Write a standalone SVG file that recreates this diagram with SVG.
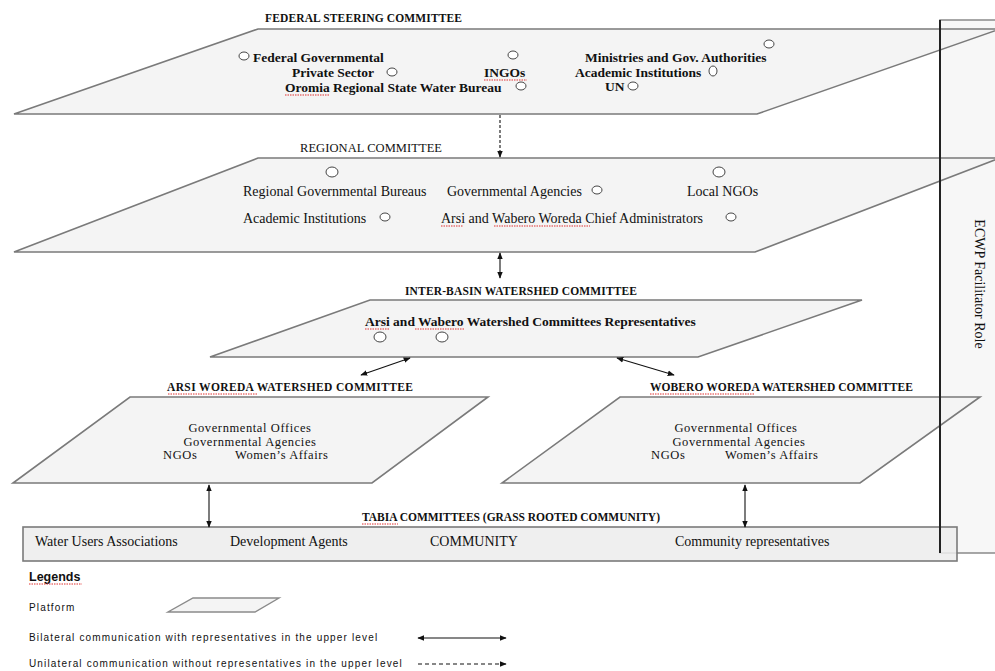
<svg xmlns="http://www.w3.org/2000/svg" width="995" height="671" viewBox="0 0 995 671">
<defs>
<marker id="ah" viewBox="0 0 10 10" refX="9" refY="5" markerWidth="7" markerHeight="7" orient="auto-start-reverse" markerUnits="userSpaceOnUse">
<path d="M0,1 L10,5 L0,9 z" fill="#111"/>
</marker>
<style>
.plat{fill:#f4f4f4;stroke:#7a7a7a;stroke-width:1.6}
.circ{fill:#fff;stroke:#444;stroke-width:1}
.t{font-family:"Liberation Serif","Times New Roman",serif;font-size:14px;fill:#111}
.b{font-weight:bold;font-size:13.5px}
.s{font-size:12.5px;letter-spacing:0.6px}
.ttl{font-family:"Liberation Serif","Times New Roman",serif;font-size:11.5px;font-weight:bold;fill:#111}
.tl{font-family:"Liberation Serif","Times New Roman",serif;font-size:12.5px;fill:#111}
.lg{font-family:"Liberation Sans",Arial,sans-serif;font-size:10px;fill:#111;letter-spacing:1.15px}
.con{stroke:#111;stroke-width:1.1;fill:none}
.sq{stroke:#e03030;stroke-width:1;fill:none;stroke-dasharray:1.5 1}
</style>
</defs>
<rect width="995" height="671" fill="#fff"/>

<g id="ecwp-box">
<rect x="940" y="20" width="62" height="533" fill="#f7f7f7" stroke="#8a8a8a" stroke-width="1.5"/>
</g>

<g id="federal">
<polygon class="plat" points="258,29 1000,29 757,114 14,114"/>
<text class="ttl" x="265" y="22" textLength="197">FEDERAL STEERING COMMITTEE</text>
<ellipse class="circ" cx="244" cy="56" rx="5" ry="4"/>
<text class="t b" x="253" y="62">Federal Governmental</text>
<text class="t b" x="292" y="77">Private Sector</text>
<ellipse class="circ" cx="392" cy="72" rx="5" ry="4"/>
<ellipse class="circ" cx="513" cy="55" rx="5" ry="4"/>
<text class="t b" x="484" y="77">INGOs</text>
<text class="t b" x="285" y="92">Oromia Regional State Water Bureau</text>
<ellipse class="circ" cx="521" cy="86" rx="5" ry="4"/>
<text class="t b" x="585" y="62">Ministries and Gov. Authorities</text>
<ellipse class="circ" cx="769" cy="44" rx="5" ry="4"/>
<text class="t b" x="575" y="77">Academic Institutions</text>
<ellipse class="circ" cx="713" cy="71" rx="4" ry="5"/>
<text class="t b" x="605" y="91">UN</text>
<ellipse class="circ" cx="633" cy="86" rx="5" ry="4"/>
</g>

<g id="regional">
<polygon class="plat" points="258,158 1000,158 755,252 14,252"/>
<text class="tl" x="300" y="152" textLength="142">REGIONAL COMMITTEE</text>
<ellipse class="circ" cx="332" cy="172" rx="6" ry="5"/>
<text class="t" x="243" y="196">Regional Governmental Bureaus</text>
<text class="t" x="447" y="196">Governmental Agencies</text>
<ellipse class="circ" cx="597" cy="190" rx="5" ry="4"/>
<ellipse class="circ" cx="719" cy="172" rx="6" ry="5"/>
<text class="t" x="687" y="196">Local NGOs</text>
<text class="t" x="243" y="223">Academic Institutions</text>
<ellipse class="circ" cx="385" cy="217" rx="5" ry="4"/>
<text class="t" x="441" y="223">Arsi and Wabero Woreda Chief Administrators</text>
<ellipse class="circ" cx="731" cy="217" rx="5" ry="4"/>
</g>

<g id="inter-basin">
<polygon class="plat" points="370,300 862,300 698,357 210,357"/>
<text class="ttl" x="405" y="295" textLength="232">INTER-BASIN WATERSHED COMMITTEE</text>
<text class="t b" x="365" y="326">Arsi and Wabero Watershed Committees Representatives</text>
<ellipse class="circ" cx="380" cy="337" rx="6" ry="5"/>
<ellipse class="circ" cx="442" cy="337" rx="6" ry="5"/>
</g>

<g id="arsi">
<polygon class="plat" points="130,397 488,397 372,483 13,483"/>
<text class="ttl" x="167" y="391" textLength="246">ARSI WOREDA WATERSHED COMMITTEE</text>
<text class="t s" x="250" y="432" text-anchor="middle">Governmental Offices</text>
<text class="t s" x="250" y="446" text-anchor="middle">Governmental Agencies</text>
<text class="t s" x="163" y="459">NGOs</text>
<text class="t s" x="235" y="459">Women’s Affairs</text>
</g>

<g id="wobero">
<polygon class="plat" points="620,397 980,397 860,483 502,483"/>
<text class="ttl" x="650" y="391" textLength="263">WOBERO WOREDA WATERSHED COMMITTEE</text>
<text class="t s" x="736" y="432" text-anchor="middle">Governmental Offices</text>
<text class="t s" x="739" y="446" text-anchor="middle">Governmental Agencies</text>
<text class="t s" x="651" y="459">NGOs</text>
<text class="t s" x="725" y="459">Women’s Affairs</text>
</g>

<g id="tabia">
<rect x="23" y="527" width="934" height="34" fill="#ececec" fill-opacity="0.85" stroke="#7a7a7a" stroke-width="1.6"/>
<text class="ttl" x="362" y="521" textLength="298">TABIA COMMITTEES (GRASS ROOTED COMMUNITY)</text>
<text class="t" x="35" y="546">Water Users Associations</text>
<text class="t" x="230" y="546">Development Agents</text>
<text class="t" x="430" y="546">COMMUNITY</text>
<text class="t" x="675" y="546">Community representatives</text>
</g>

<g id="ecwp">
<line x1="940" y1="20" x2="940" y2="553" stroke="#222" stroke-width="2"/>
<text class="t" x="0" y="0" text-anchor="middle" transform="translate(975,284) rotate(90)">ECWP Facilitator Role</text>
</g>

<g id="connectors">
<line class="con" x1="500" y1="115" x2="500" y2="157" stroke-dasharray="3 2" marker-end="url(#ah)"/>
<line class="con" x1="500" y1="253" x2="500" y2="278" marker-start="url(#ah)" marker-end="url(#ah)"/>
<line class="con" x1="410" y1="358" x2="361" y2="375" marker-start="url(#ah)" marker-end="url(#ah)"/>
<line class="con" x1="617" y1="358" x2="674" y2="375" marker-start="url(#ah)" marker-end="url(#ah)"/>
<line class="con" x1="209" y1="485" x2="209" y2="527" marker-start="url(#ah)" marker-end="url(#ah)"/>
<line class="con" x1="745" y1="485" x2="745" y2="527" marker-start="url(#ah)" marker-end="url(#ah)"/>
</g>

<g id="legend">
<text x="29" y="581" font-family="'Liberation Sans',Arial,sans-serif" font-size="12.5" font-weight="bold" fill="#111">Legends</text>
<text class="lg" x="29" y="611">Platform</text>
<polygon points="193,598 279,598 255,612 168,612" fill="#f4f4f4" stroke="#8a8a8a" stroke-width="1.4"/>
<text class="lg" x="29" y="641">Bilateral communication with representatives in the upper level</text>
<line class="con" x1="418" y1="638" x2="506" y2="638" marker-start="url(#ah)" marker-end="url(#ah)"/>
<text class="lg" x="29" y="667">Unilateral communication without representatives in the upper level</text>
<line class="con" x1="418" y1="664" x2="506" y2="664" stroke-dasharray="4 3" marker-end="url(#ah)"/>
</g>

<g id="spellcheck-marks">
<path class="sq" d="M285,95 H330"/>
<path class="sq" d="M484,80 H527"/>
<path class="sq" d="M441,226 H463"/>
<path class="sq" d="M494,226 H590"/>
<path class="sq" d="M365,329 H390"/>
<path class="sq" d="M415,329 H464"/>
<path class="sq" d="M168,394 H257"/>
<path class="sq" d="M650,394 H755"/>
<path class="sq" d="M362,524 H398"/>
<path class="sq" d="M29,584 H82"/>
</g>
</svg>
